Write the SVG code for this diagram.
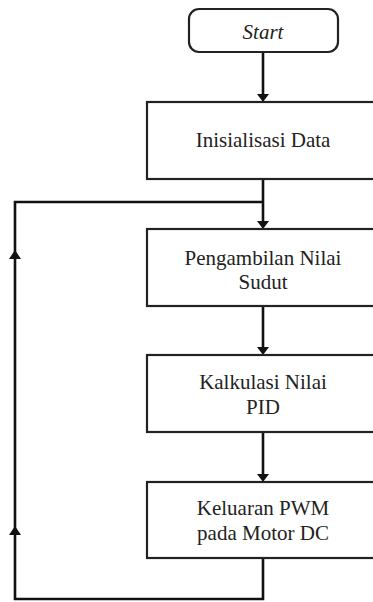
<svg xmlns="http://www.w3.org/2000/svg" width="373" height="602" viewBox="0 0 373 602">
<style>
.box{fill:#fff;stroke:#222;stroke-width:2.2}
.ln{fill:none;stroke:#111;stroke-width:2.6}
.t{font-family:"Liberation Serif","Times New Roman",serif;font-size:21px;fill:#222;text-anchor:middle}
.ah{fill:#111}
</style>
<rect width="373" height="602" fill="#fff"/>
<g id="connectors">
<line class="ln" x1="263" y1="52" x2="263" y2="95"/>
<polygon class="ah" points="257,94 269,94 263,102"/>
<line class="ln" x1="263" y1="179" x2="263" y2="222"/>
<polygon class="ah" points="257,221 269,221 263,229"/>
<line class="ln" x1="263" y1="306" x2="263" y2="348"/>
<polygon class="ah" points="257,347 269,347 263,355"/>
<line class="ln" x1="263" y1="432" x2="263" y2="475"/>
<polygon class="ah" points="257,474 269,474 263,482"/>
<polyline class="ln" points="263,558 263,599 15,599 15,202 263,202"/>
<polygon class="ah" points="9,535 21,535 15,526"/>
<polygon class="ah" points="9,259 21,259 15,250"/>
</g>
<g id="start">
<rect class="box" x="189" y="9" width="149" height="43" rx="10"/>
<text class="t" x="263" y="39" font-style="italic">Start</text>
</g>
<g id="init">
<rect class="box" x="147" y="102" width="230" height="77"/>
<text class="t" x="263" y="147">Inisialisasi Data</text>
</g>
<g id="sudut">
<rect class="box" x="147" y="229" width="230" height="77"/>
<text class="t" x="263" y="265">Pengambilan Nilai</text>
<text class="t" x="263" y="289">Sudut</text>
</g>
<g id="pid">
<rect class="box" x="147" y="355" width="230" height="77"/>
<text class="t" x="263" y="389">Kalkulasi Nilai</text>
<text class="t" x="263" y="414">PID</text>
</g>
<g id="pwm">
<rect class="box" x="147" y="482" width="230" height="76"/>
<text class="t" x="263" y="515">Keluaran PWM</text>
<text class="t" x="263" y="540">pada Motor DC</text>
</g>
</svg>
